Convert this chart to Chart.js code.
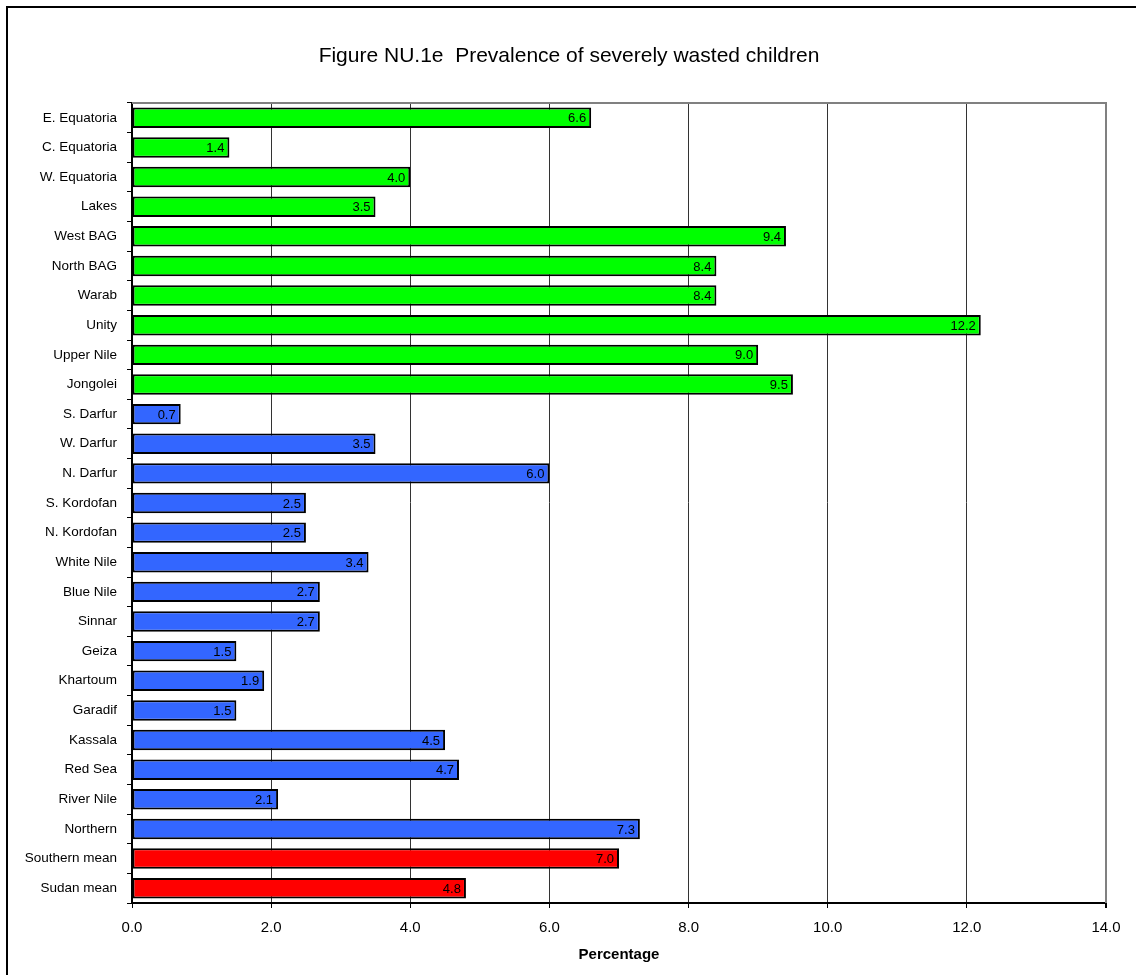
<!DOCTYPE html>
<html>
<head>
<meta charset="utf-8">
<script src="https://cdn.jsdelivr.net/npm/chart.js@4/dist/chart.umd.min.js"></script>
<style>
  html, body { margin: 0; padding: 0; background: #fff; }
  #wrap { position: relative; width: 1136px; height: 975px; overflow: hidden; }
  canvas { display: block; }
</style>
</head>
<body>
<div id="wrap"><canvas id="c" width="1136" height="975"></canvas></div>
<script>
const categories = ["E. Equatoria","C. Equatoria","W. Equatoria","Lakes","West BAG","North BAG","Warab","Unity","Upper Nile","Jongolei","S. Darfur","W. Darfur","N. Darfur","S. Kordofan","N. Kordofan","White Nile","Blue Nile","Sinnar","Geiza","Khartoum","Garadif","Kassala","Red Sea","River Nile","Northern","Southern mean","Sudan mean"];
const values = [6.6,1.4,4.0,3.5,9.4,8.4,8.4,12.2,9.0,9.5,0.7,3.5,6.0,2.5,2.5,3.4,2.7,2.7,1.5,1.9,1.5,4.5,4.7,2.1,7.3,7.0,4.8];
const groups = ["south","south","south","south","south","south","south","south","south","south","north","north","north","north","north","north","north","north","north","north","north","north","north","north","north","mean","mean"];
const xTicks = [0,2,4,6,8,10,12,14];
const groupColors = { south: "#00FF00", north: "#3366FF", mean: "#FF0000" };
const titleText = 'Figure NU.1e  Prevalence of severely wasted children';

const FONT = "'Liberation Sans', Arial, sans-serif";

const framePlugin = {
  id: 'frame',
  beforeDraw(chart) {
    const ctx = chart.ctx;
    ctx.save();
    ctx.strokeStyle = '#000';
    ctx.lineWidth = 2;
    ctx.beginPath();
    ctx.moveTo(7, 2000); ctx.lineTo(7, 7); ctx.lineTo(2000, 7);
    ctx.stroke();
    // title
    ctx.fillStyle = '#000';
    ctx.font = "21px " + FONT;
    ctx.textAlign = 'center';
    ctx.textBaseline = 'alphabetic';
    ctx.fillText(titleText, 569, 62);
    ctx.restore();
  },
  afterDatasetsDraw(chart) {
    const ctx = chart.ctx;
    const a = chart.chartArea;
    ctx.save();
    ctx.strokeStyle = '#808080';
    ctx.lineWidth = 2;
    ctx.beginPath();
    ctx.moveTo(a.left, a.top); ctx.lineTo(a.right, a.top); ctx.lineTo(a.right, a.bottom);
    ctx.stroke();
    // data labels
    const meta = chart.getDatasetMeta(0);
    ctx.fillStyle = '#000';
    ctx.font = "13px " + FONT;
    ctx.textAlign = 'right';
    ctx.textBaseline = 'middle';
    meta.data.forEach((bar, i) => {
      ctx.fillText(values[i].toFixed(1), bar.x - 5, bar.y + 1);
    });
    ctx.restore();
  }
};

new Chart(document.getElementById('c'), {
  type: 'bar',
  data: {
    labels: categories,
    datasets: [{
      data: values,
      backgroundColor: groups.map(g => groupColors[g]),
      borderColor: '#000',
      borderWidth: 2,
      borderSkipped: false,
      categoryPercentage: 0.69,
      barPercentage: 1.0
    }]
  },
  options: {
    indexAxis: 'y',
    responsive: false,
    animation: false,
    devicePixelRatio: 1,
    layout: { padding: { top: 103, right: 30, left: 0, bottom: 0 } },
    plugins: {
      legend: { display: false },
      tooltip: { enabled: false },
      title: { display: false }
    },
    scales: {
      x: {
        type: 'linear',
        min: 0, max: 14,
        afterBuildTicks(axis) { axis.ticks = xTicks.map(v => ({ value: v })); },
        afterFit(axis) { axis.height = 72; },
        ticks: {
          color: '#000',
          font: { family: FONT, size: 15 },
          padding: 11,
          callback: v => Number(v).toFixed(1)
        },
        grid: {
          color: ctx => (ctx.tick && ctx.tick.value === 14) ? '#808080' : '#333',
          lineWidth: ctx => (ctx.tick && ctx.tick.value === 14) ? 2 : 1,
          tickLength: 5,
          tickColor: '#000',
          drawOnChartArea: true
        },
        border: { display: true, color: '#000', width: 2 },
        title: {
          display: true,
          text: 'Percentage',
          color: '#000',
          font: { family: FONT, size: 15, weight: 'bold' },
          padding: 11
        }
      },
      y: {
        afterFit(axis) { axis.width = 132; },
        ticks: {
          color: '#000',
          font: { family: FONT, size: 13.5 },
          padding: 10
        },
        grid: {
          offset: true,
          drawOnChartArea: false,
          tickLength: 5,
          color: '#000',
          lineWidth: 1
        },
        border: { display: true, color: '#000', width: 2 }
      }
    }
  },
  plugins: [framePlugin]
});
</script>
</body>
</html>
